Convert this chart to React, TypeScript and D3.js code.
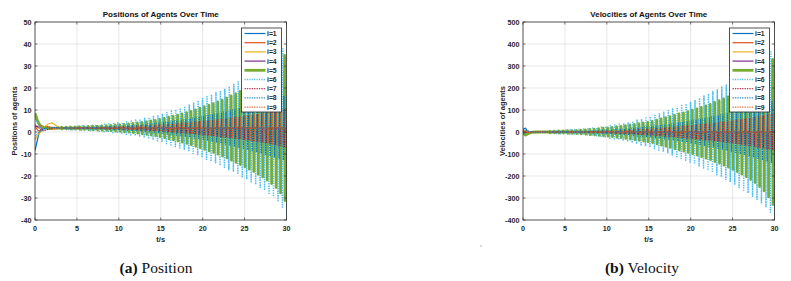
import React, { useRef, useEffect } from 'react';
import * as d3 from 'd3';

// ---- data ----
const timeTicks = [0, 5, 10, 15, 20, 25, 30];
const posTicks = [-40, -30, -20, -10, 0, 10, 20, 30, 40, 50];
const velTicks = [-400, -300, -200, -100, 0, 100, 200, 300, 400, 500];

const agentLabels = ['i=1', 'i=2', 'i=3', 'i=4', 'i=5', 'i=6', 'i=7', 'i=8', 'i=9'];

// times of the oscillation spikes (s)
const spikeT = [
  3.2, 3.73, 4.26, 4.8, 5.33, 5.86, 6.39, 6.92, 7.46, 7.99,
  8.52, 9.05, 9.58, 10.12, 10.65, 11.18, 11.71, 12.24, 12.78, 13.31,
  13.84, 14.37, 14.9, 15.44, 15.97, 16.5, 17.03, 17.56, 18.1, 18.63,
  19.16, 19.69, 20.22, 20.76, 21.29, 21.82, 22.35, 22.88, 23.42, 23.95,
  24.48, 25.01, 25.54, 26.08, 26.61, 27.14, 27.67, 28.2, 28.74, 29.27, 29.8,
];

// positions: spike half-heights per agent group
const posGreen = [
  0.4, 0.4, 0.5, 0.5, 0.6, 0.6, 0.7, 0.8, 0.9, 1.0,
  1.1, 1.2, 1.4, 1.5, 1.7, 1.9, 2.1, 2.3, 2.6, 2.9,
  3.2, 3.5, 3.9, 4.4, 4.9, 5.4, 5.9, 6.4, 7.0, 7.6,
  8.3, 9.0, 9.7, 10.4, 11.1, 11.9, 12.7, 13.6, 14.6, 15.6,
  16.6, 17.6, 18.7, 19.8, 21.0, 22.3, 23.7, 25.2, 27.0, 29.5, 33.0,
];
const posCyan = [
  0.6, 0.7, 0.8, 0.9, 1.0, 1.1, 1.2, 1.3, 1.5, 1.7,
  1.9, 2.1, 2.4, 2.6, 2.9, 3.2, 3.6, 4.0, 4.4, 4.9,
  5.4, 5.9, 6.5, 7.1, 7.7, 8.4, 9.1, 9.9, 10.7, 11.6,
  12.5, 13.4, 14.3, 15.2, 16.1, 17.0, 17.9, 18.9, 19.9, 21.0,
  22.1, 23.3, 24.5, 25.7, 27.0, 28.3, 29.7, 31.2, 33.0, 36.0, 41.0,
];
const posBlue = [
  0.3, 0.3, 0.4, 0.4, 0.4, 0.5, 0.5, 0.6, 0.6, 0.7,
  0.8, 0.9, 1.0, 1.1, 1.2, 1.3, 1.4, 1.6, 1.8, 2.0,
  2.2, 2.4, 2.6, 2.9, 3.1, 3.4, 3.7, 4.0, 4.3, 4.7,
  5.0, 5.4, 5.8, 6.2, 6.6, 7.0, 7.5, 8.0, 8.5, 9.0,
  9.5, 10.0, 10.5, 11.0, 11.6, 12.2, 12.8, 13.4, 14.0, 14.6, 15.0,
];
const posWarm = [
  0.2, 0.2, 0.3, 0.3, 0.3, 0.4, 0.4, 0.4, 0.5, 0.5,
  0.6, 0.6, 0.7, 0.8, 0.8, 0.9, 1.0, 1.1, 1.2, 1.3,
  1.4, 1.5, 1.6, 1.8, 1.9, 2.1, 2.2, 2.4, 2.6, 2.8,
  3.0, 3.2, 3.4, 3.6, 3.8, 4.0, 4.3, 4.5, 4.8, 5.0,
  5.3, 5.6, 5.9, 6.2, 6.5, 6.8, 7.2, 7.6, 8.0, 8.5, 9.0,
];

// velocities: spike half-heights per agent group
const velGreen = [
  4, 4, 5, 5, 6, 6, 7, 8, 10, 12,
  13, 15, 17, 19, 21, 24, 26, 29, 32, 35,
  38, 41, 44, 48, 54, 60, 65, 70, 76, 82,
  87, 93, 99, 105, 112, 119, 126, 134, 142, 151,
  160, 170, 180, 191, 203, 216, 230, 248, 268, 295, 330,
];
const velCyan = [
  6, 7, 8, 9, 10, 11, 12, 14, 16, 18,
  20, 23, 26, 29, 32, 36, 40, 44, 49, 54,
  59, 64, 70, 76, 83, 90, 97, 104, 112, 120,
  128, 137, 146, 155, 164, 174, 184, 194, 205, 216,
  228, 240, 252, 265, 278, 292, 306, 322, 340, 365, 405,
];
const velBlue = [
  3, 3, 3, 4, 4, 4, 5, 5, 6, 7,
  8, 9, 10, 11, 12, 13, 14, 16, 18, 20,
  22, 24, 26, 28, 30, 33, 36, 39, 42, 45,
  48, 51, 55, 59, 63, 67, 71, 75, 80, 85,
  90, 95, 100, 105, 110, 116, 122, 128, 134, 140, 148,
];
const velWarm = [
  2, 2, 2, 2, 3, 3, 3, 3, 4, 4,
  5, 5, 6, 6, 7, 8, 9, 10, 11, 12,
  13, 14, 15, 17, 18, 20, 21, 23, 25, 27,
  29, 31, 33, 35, 37, 39, 41, 43, 46, 48,
  51, 54, 57, 60, 63, 66, 70, 74, 78, 82, 86,
];

// start-up transients [t, value] per agent
const posEarly: [number, number][][] = [
  [[0, -8.5], [0.2, -5], [0.45, -1], [0.7, 1], [1.0, 1.7], [1.5, 1.9], [2.5, 1.8], [3.0, 1.8]],
  [[0, 2.5], [0.4, 0.5], [0.8, 0.8], [1.3, 2.6], [1.8, 2.2], [2.5, 1.5], [3.0, 1.8]],
  [[0, -3.5], [0.4, -1], [0.9, 0.8], [1.5, 3.5], [2.0, 4.2], [2.5, 3], [3.0, 1.8]],
  [[0, 2.8], [0.5, 2.2], [1.0, 1.5], [2.0, 1.8], [3.0, 1.8]],
  [[0, 8.5], [0.3, 5], [0.6, 3], [1.0, 2], [1.5, 1.6], [2.5, 1.8], [3.0, 1.8]],
  [[0, 6], [0.4, 3], [0.8, 0.5], [1.3, 1.2], [2.0, 2], [3.0, 1.8]],
  [[0, 3.5], [0.5, 1.5], [1.0, 0.5], [1.6, 1.2], [2.3, 2], [3.0, 1.8]],
  [[0, -2], [0.5, 0], [1.0, 1.5], [2.0, 2], [3.0, 1.8]],
  [[0, 1], [0.5, 3], [1.2, 2.5], [2.0, 1.2], [3.0, 1.8]],
];
const velEarly: [number, number][][] = [
  [[0, 0], [0.1, 15], [0.3, 18], [0.5, 5], [0.8, -3], [1.2, 0], [3.0, 0]],
  [[0, 5], [0.5, -3], [1.0, 2], [2.0, 0], [3.0, 0]],
  [[0, 8], [0.5, 4], [1.0, -2], [1.8, -3], [2.5, 0], [3.0, 0]],
  [[0, -3], [0.6, -1], [1.5, 0], [3.0, 0]],
  [[0, -5], [0.3, -14], [0.6, -8], [1.0, -2], [1.5, 0], [3.0, 0]],
  [[0, -8], [0.4, -4], [1.0, 2], [2.0, 0], [3.0, 0]],
  [[0, -6], [0.5, -2], [1.2, 1], [3.0, 0]],
  [[0, 10], [0.5, 6], [1.2, -1], [3.0, 0]],
  [[0, 6], [0.6, -2], [1.4, 1], [3.0, 0]],
];

const posCentre = 1.8;
const velCentre = 0;

// ---- styling ----
const agentColors = ['#0072BD', '#D95319', '#EDB120', '#7E2F8E', '#77AC30', '#4DBEEE', '#A2142F', '#0072BD', '#D95319'];
const agentDash = ['none', 'none', 'none', 'none', 'none', '1.2,1.2', '1.4,1', '1.4,1', '1.4,1'];
const agentWidth = [1.2, 1.2, 1.2, 1.2, 2.8, 1.5, 1, 1, 1];
const agentPhase = [0.13, 0.07, 0.2, 0.33, 0, 0.27, 0.46, 0.4, 0.1];
const agentSign = [1, -1, 1, -1, 1, -1, 1, -1, 1];

const SANS = '"Liberation Sans", Arial, Helvetica, sans-serif';
const INK = '#262626';

function AgentChart({ id, left, title, yLabel, yTicks, early, amps, centre, tag, caption, captionX }: any) {
  const gRef = useRef<SVGGElement>(null);

  useEffect(() => {
    const g = d3.select(gRef.current);
    g.selectAll('*').remove();

    const x0 = left, x1 = left + 251.5, y0 = 22, y1 = 220;
    const x = d3.scaleLinear().domain([0, 30]).range([x0, x1]);
    const y = d3.scaleLinear().domain([yTicks[0], yTicks[yTicks.length - 1]]).range([y1, y0]);

    g.append('clipPath').attr('id', id).append('rect')
      .attr('x', x0).attr('y', y0).attr('width', x1 - x0).attr('height', y1 - y0);

    // grid
    g.append('g').selectAll('line').data(timeTicks.slice(1, -1)).enter().append('line')
      .attr('x1', d => x(d)).attr('x2', d => x(d)).attr('y1', y0).attr('y2', y1)
      .attr('stroke', '#dedede').attr('stroke-width', 0.7);
    g.append('g').selectAll('line').data(yTicks.slice(1, -1)).enter().append('line')
      .attr('x1', x0).attr('x2', x1).attr('y1', d => y(d)).attr('y2', d => y(d))
      .attr('stroke', '#dedede').attr('stroke-width', 0.7);

    // agents, drawn in order so i=9 ends on top
    const line = d3.line<[number, number]>().x(d => x(d[0])).y(d => y(d[1]));
    const lines = g.append('g').attr('clip-path', `url(#${id})`);
    agentLabels.forEach((_, j) => {
      const pts: [number, number][] = early[j].map((d: [number, number]) => [d[0], d[1]]);
      const a = amps[j];
      spikeT.forEach((t, k) => {
        const s = t + agentPhase[j];
        const h = a[k] * agentSign[j];
        pts.push([s - 0.08, centre], [s - 0.025, centre + h], [s + 0.025, centre - h], [s + 0.08, centre]);
      });
      lines.append('path')
        .attr('d', line(pts))
        .attr('fill', 'none')
        .attr('stroke', agentColors[j])
        .attr('stroke-width', agentWidth[j])
        .attr('stroke-dasharray', agentDash[j])
        .attr('stroke-linejoin', 'round');
    });

    // box and inward ticks
    g.append('rect').attr('x', x0).attr('y', y0).attr('width', x1 - x0).attr('height', y1 - y0)
      .attr('fill', 'none').attr('stroke', INK).attr('stroke-width', 0.8);
    const tk = g.append('g').attr('stroke', INK).attr('stroke-width', 0.6);
    timeTicks.forEach(t => {
      tk.append('line').attr('x1', x(t)).attr('x2', x(t)).attr('y1', y1).attr('y2', y1 - 2.5);
      tk.append('line').attr('x1', x(t)).attr('x2', x(t)).attr('y1', y0).attr('y2', y0 + 2.5);
    });
    yTicks.forEach((v: number) => {
      tk.append('line').attr('x1', x0).attr('x2', x0 + 2.5).attr('y1', y(v)).attr('y2', y(v));
      tk.append('line').attr('x1', x1).attr('x2', x1 - 2.5).attr('y1', y(v)).attr('y2', y(v));
    });

    // tick labels
    g.append('g').selectAll('text').data(timeTicks).enter().append('text')
      .attr('x', d => x(d)).attr('y', y1 + 11).attr('text-anchor', 'middle')
      .attr('font-family', SANS).attr('font-size', 7.2).attr('font-weight', 'bold').attr('fill', INK)
      .text(d => d);
    g.append('g').selectAll('text').data(yTicks).enter().append('text')
      .attr('x', x0 - 3.5).attr('y', (d: number) => y(d) + 2.5).attr('text-anchor', 'end')
      .attr('font-family', SANS).attr('font-size', 7.2).attr('font-weight', 'bold').attr('fill', INK)
      .text((d: number) => d);

    // axis labels and title
    g.append('text').attr('x', (x0 + x1) / 2).attr('y', 241.5).attr('text-anchor', 'middle')
      .attr('font-family', SANS).attr('font-size', 7.5).attr('font-weight', 'bold').attr('fill', INK).text('t/s');
    g.append('text')
      .attr('transform', `translate(${x0 - 18.5},${(y0 + y1) / 2}) rotate(-90)`)
      .attr('text-anchor', 'middle')
      .attr('font-family', SANS).attr('font-size', 7.5).attr('font-weight', 'bold').attr('fill', INK).text(yLabel);
    g.append('text').attr('x', (x0 + x1) / 2).attr('y', 16.5).attr('text-anchor', 'middle')
      .attr('font-family', SANS).attr('font-size', 8).attr('font-weight', 'bold').attr('fill', '#111').text(title);

    // legend
    const lx = x1 - 45, ly = 28;
    const lg = g.append('g');
    lg.append('rect').attr('x', lx).attr('y', ly).attr('width', 40).attr('height', 84)
      .attr('fill', '#fff').attr('stroke', INK).attr('stroke-width', 0.8);
    agentLabels.forEach((lab, j) => {
      const yy = ly + 5.5 + j * 9.2;
      lg.append('line').attr('x1', lx + 3).attr('x2', lx + 24).attr('y1', yy).attr('y2', yy)
        .attr('stroke', agentColors[j]).attr('stroke-width', agentWidth[j])
        .attr('stroke-dasharray', agentDash[j]);
      lg.append('text').attr('x', lx + 25.5).attr('y', yy + 2.4)
        .attr('font-family', SANS).attr('font-size', 6.8).attr('font-weight', 'bold').attr('fill', INK)
        .text(lab);
    });

    // caption
    const cap = g.append('text').attr('x', captionX).attr('y', 273).attr('text-anchor', 'middle')
      .attr('font-family', '"Liberation Serif", "Times New Roman", serif').attr('font-size', 15.5).attr('fill', '#111');
    cap.append('tspan').attr('font-weight', 'bold').text(tag);
    cap.append('tspan').text(' ' + caption);
  }, [id, left, title, yLabel, yTicks, early, amps, centre, tag, caption, captionX]);

  return <g ref={gRef} />;
}

export default function App() {
  const posAmps = [posBlue, posWarm, posWarm, posWarm, posGreen, posCyan, posWarm, posBlue, posWarm];
  const velAmps = [velBlue, velWarm, velWarm, velWarm, velGreen, velCyan, velWarm, velBlue, velWarm];
  return (
    <svg width={791} height={281} style={{ position: 'absolute', left: 0, top: 0, background: '#fff' }}>
      <AgentChart id="clipPos" left={35} title="Positions of Agents Over Time" yLabel="Positions of agents"
        yTicks={posTicks} early={posEarly} amps={posAmps} centre={posCentre}
        tag="(a)" caption="Position" captionX={156} />
      <AgentChart id="clipVel" left={523} title="Velocities of Agents Over Time" yLabel="Velocities of agents"
        yTicks={velTicks} early={velEarly} amps={velAmps} centre={velCentre}
        tag="(b)" caption="Velocity" captionX={642} />
      <circle cx={481} cy={246} r={0.7} fill="#999" />
    </svg>
  );
}
